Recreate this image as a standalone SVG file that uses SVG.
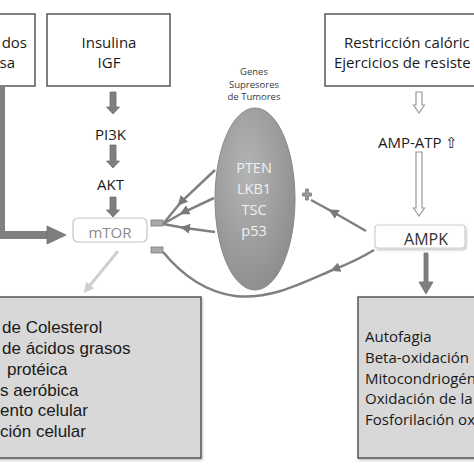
<svg xmlns="http://www.w3.org/2000/svg" width="474" height="474" viewBox="0 0 474 474">
<style>
.box{fill:#fff;stroke:#555;stroke-width:1.5}
.gbox{fill:#d8d8d8;stroke:#555;stroke-width:1.5}
.t{font-family:"Open Sans","Noto Sans",sans-serif;font-size:15px;fill:#1a1a1a}
.a{font-family:"Liberation Sans",Arial,sans-serif;font-size:17px;fill:#1a1a1a}
.blk{fill:#7f7f7f;stroke:#6f6f6f;stroke-width:0.8}
.hol{fill:#fff;stroke:#999;stroke-width:1.2}
.ln{fill:none;stroke:#808080;stroke-width:2.5}
</style>
<defs>
<marker id="ah" viewBox="0 0 10 10" refX="5" refY="5" markerWidth="4" markerHeight="4" orient="auto" markerUnits="strokeWidth">
<path d="M0,0 L10,5 L0,10 z" fill="#7a7a7a"/>
</marker>
<marker id="ahl" viewBox="0 0 10 10" refX="5" refY="5" markerWidth="3.5" markerHeight="3.5" orient="auto" markerUnits="strokeWidth">
<path d="M0,0 L10,5 L0,10 z" fill="#cfcfcf"/>
</marker>
<radialGradient id="eg" cx="0.4" cy="0.35" r="0.75">
<stop offset="0" stop-color="#b4b4b4"/>
<stop offset="1" stop-color="#8a8a8a"/>
</radialGradient>
<filter id="sh" x="-10%" y="-10%" width="120%" height="130%">
<feDropShadow dx="1" dy="1.5" stdDeviation="1" flood-color="#000" flood-opacity="0.25"/>
</filter>
</defs>

<g id="node-left-top">
<rect class="box" x="-2" y="14" width="37" height="72"/>
<text class="t" x="27" y="48" text-anchor="end">dos</text>
<text class="t" x="15" y="68" text-anchor="end">sa</text>
</g>
<g id="node-insulina">
<rect class="box" x="47" y="14" width="123" height="72"/>
<text class="t" x="109" y="48" text-anchor="middle">Insulina</text>
<text class="t" x="109" y="68" text-anchor="middle">IGF</text>
</g>
<g id="node-restriccion">
<rect class="box" x="325" y="14" width="160" height="72"/>
<text class="t" x="344" y="48">Restricción calóric</text>
<text class="t" x="334" y="68">Ejercicios de resiste</text>
</g>
<g id="node-pi3k"><text class="t" x="110.5" y="140" text-anchor="middle">PI3K</text></g>
<g id="node-akt"><text class="t" x="110.5" y="190" text-anchor="middle">AKT</text></g>
<g id="node-mtor">
<rect x="73" y="218" width="74" height="24" rx="5" fill="#fff" stroke="#c4c4c4" stroke-width="1.2"/>
<text class="t" x="110" y="238" text-anchor="middle" style="fill:#8a8a8a">mTOR</text>
</g>
<g id="node-genes">
<text x="254" y="75" text-anchor="middle" font-family="'Open Sans','Noto Sans',sans-serif" font-size="9.5" fill="#3a3a3a">Genes</text>
<text x="254" y="87.5" text-anchor="middle" font-family="'Open Sans','Noto Sans',sans-serif" font-size="9.5" fill="#3a3a3a">Supresores</text>
<text x="254" y="100" text-anchor="middle" font-family="'Open Sans','Noto Sans',sans-serif" font-size="9.5" fill="#3a3a3a">de Tumores</text>
<ellipse cx="255" cy="199" rx="40" ry="91" fill="url(#eg)" stroke="#888" stroke-width="1"/>
<g font-family="'Open Sans','Noto Sans',sans-serif" font-size="14.5" fill="#f0f0f0" text-anchor="middle">
<text x="254" y="173">PTEN</text>
<text x="254" y="194">LKB1</text>
<text x="254" y="215">TSC</text>
<text x="254" y="236">p53</text>
</g>
</g>
<g id="node-ampatp"><text class="t" x="378" y="148">AMP-ATP ⇧</text></g>
<g id="node-ampk">
<rect x="375" y="225" width="90" height="23" rx="3" fill="#fff" stroke="#cfcfcf" stroke-width="1.2" filter="url(#sh)"/>
<text class="t" x="426" y="244.5" text-anchor="middle" style="font-size:16px;fill:#333">AMPK</text>
</g>
<g id="node-mtor-effects">
<rect class="gbox" x="-2" y="297" width="203" height="161" filter="url(#sh)"/>
<text class="a" x="2" y="333">de Colesterol</text>
<text class="a" x="2" y="354">de ácidos grasos</text>
<text class="a" x="7" y="375">protéica</text>
<text class="a" x="0" y="396">s aeróbica</text>
<text class="a" x="0" y="416">ento celular</text>
<text class="a" x="0" y="437">ción celular</text>
</g>
<g id="node-ampk-effects">
<rect class="gbox" x="358" y="297" width="130" height="161" filter="url(#sh)"/>
<text class="t" x="365" y="342">Autofagia</text>
<text class="t" x="365" y="363">Beta-oxidación</text>
<text class="t" x="365" y="384">Mitocondriogén</text>
<text class="t" x="365" y="404">Oxidación de la</text>
<text class="t" x="365" y="425">Fosforilación ox</text>
</g>

<g id="connectors">
<path d="M1,86 V235 H50" fill="none" stroke="#7f7f7f" stroke-width="8"/>
<polygon class="blk" points="47,226 66,235 47,244"/>
<polygon class="blk" points="110,92 116,92 116,107 119.5,107 113,114 106.5,107 110,107"/>
<polygon class="blk" points="110,145 116,145 116,161 119.5,161 113,168 106.5,161 110,161"/>
<polygon class="blk" points="110,197 116,197 116,210 119.5,210 113,217 106.5,210 110,210"/>
<polygon class="blk" points="424,253 428,253 428,282 433,282 426,294 419,282 424,282"/>
<polygon class="hol" points="416,92 422,92 422,105 424.5,105 419,113 413.5,105 416,105"/>
<polygon class="hol" points="416,152 422,152 422,208 424.5,208 419,216 413.5,208 416,208"/>
<line x1="118" y1="251" x2="87" y2="289" stroke="#cfcfcf" stroke-width="3" marker-end="url(#ahl)"/>
<polyline class="ln" points="215,170 181,202 163,224" marker-mid="url(#ah)"/>
<polyline class="ln" points="214,198 184,212 163,224" marker-mid="url(#ah)"/>
<polyline class="ln" points="215,232 185,228 163,224" marker-mid="url(#ah)"/>
<rect x="151" y="220" width="12" height="6" fill="#a8a8a8" stroke="#7a7a7a" stroke-width="0.8"/>
<polyline class="ln" points="366,231 333,212 311,200" marker-mid="url(#ah)"/>
<path d="M302.5,193 h3 v-4 h3 v4 h3 v3 h-3 v4 h-3 v-4 h-3 z" fill="#9a9a9a" stroke="#7a7a7a" stroke-width="0.8"/>
<path class="ln" d="M374,250 Q356,261 335,269" marker-end="url(#ah)"/>
<path class="ln" d="M335,269 C300,284 270,300 235,296 C205,292 182,275 163,252"/>
<rect x="151" y="247" width="12" height="6" fill="#a8a8a8" stroke="#7a7a7a" stroke-width="0.8"/>
</g>
</svg>
